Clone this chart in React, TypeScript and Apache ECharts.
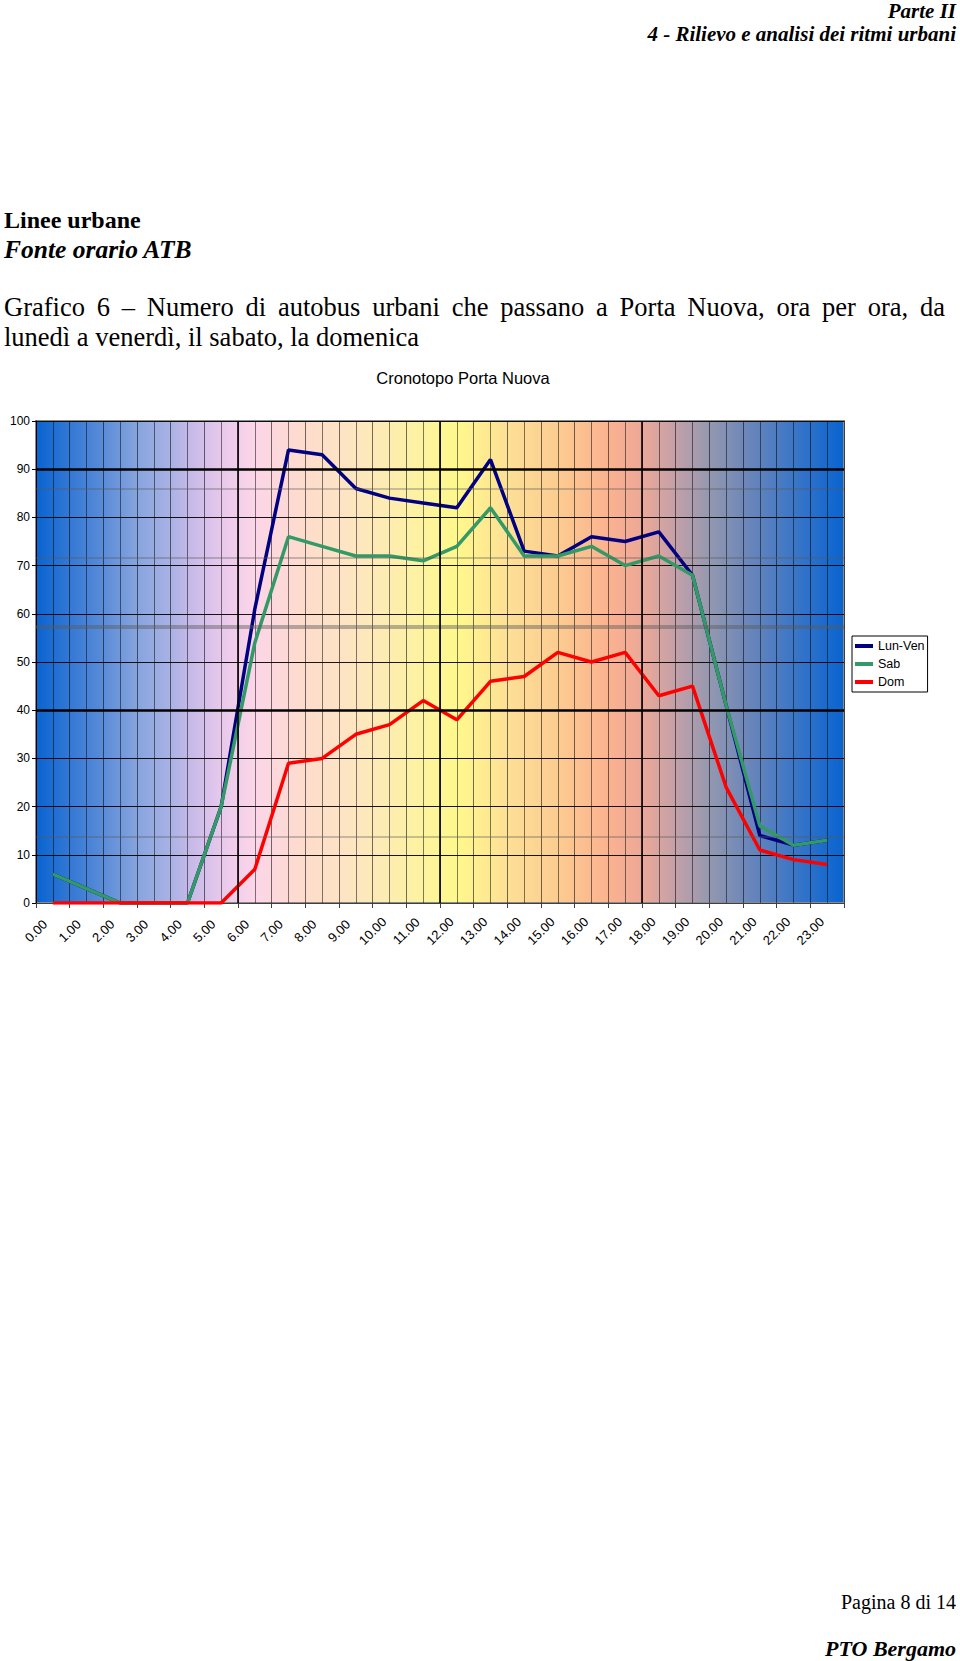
import React, { useEffect, useRef } from "react";
import * as echarts from "echarts";

// ---------- data ----------
const hours = [
  "0.00", "1.00", "2.00", "3.00", "4.00", "5.00", "6.00", "7.00", "8.00", "9.00", "10.00", "11.00",
  "12.00", "13.00", "14.00", "15.00", "16.00", "17.00", "18.00", "19.00", "20.00", "21.00", "22.00", "23.00",
];
const lunVen = [6, 3, 0, 0, 0, 20, 61, 94, 93, 86, 84, 83, 82, 92, 73, 72, 76, 75, 77, 68, 41, 14, 12, 13];
const sab = [6, 3, 0, 0, 0, 20, 54, 76, 74, 72, 72, 71, 74, 82, 72, 72, 74, 70, 72, 68, 41, 16, 12, 13];
const dom = [0, 0, 0, 0, 0, 0, 7, 29, 30, 35, 37, 42, 38, 46, 47, 52, 50, 52, 43, 45, 24, 11, 9, 8];
const seriesNames = ["Lun-Ven", "Sab", "Dom"];
const seriesColors = ["#000080", "#339966", "#ff0000"];

// background-picture decorations
const heavyHours = [6, 12, 18];
const heavyLevels = [90, 40];
const pictureLevels = [86, 71.6, 57.3, 13.8];

// ---------- texts ----------
const headerPart = "Parte II";
const headerChapter = "4 - Rilievo e analisi dei ritmi urbani";
const sectionTitle = "Linee urbane";
const sourceText = "Fonte orario ATB";
const captionLine1 = "Grafico 6 \u2013 Numero di autobus urbani che passano a Porta Nuova, ora per ora, da";
const captionLine2 = "luned\u00ec a venerd\u00ec, il sabato, la domenica";
const chartTitle = "Cronotopo Porta Nuova";
const footerPage = "Pagina 8 di 14";
const footerOrg = "PTO Bergamo";

const SERIF = '"Liberation Serif", "Times New Roman", serif';
const SANS = '"Liberation Sans", Arial, sans-serif';

const gradientStops: [number, string][] = [
  [0, "#0864d0"], [1, "#3378d4"], [2, "#5a8cd8"], [3, "#86a4de"], [4, "#aab2e4"], [4.5, "#c2b8e8"],
  [5.5, "#e8c8ec"], [6.5, "#fcd6e8"], [8, "#fddccc"], [9.5, "#fde6c0"], [11, "#fdf0a8"], [12.5, "#fff88c"],
  [14, "#fde096"], [15.5, "#fccc90"], [17, "#fbb290"], [18, "#eca898"], [19, "#c4a0a8"], [20, "#9498b0"],
  [21, "#7088b8"], [22, "#4c7cc2"], [23, "#2a70ca"], [24, "#0864d0"],
];

function txt(text: string, x: number, y: number, size: number, align: string, weight = "normal", style = "normal", family = SERIF) {
  return {
    type: "text",
    x,
    y,
    silent: true,
    style: {
      text,
      fontSize: size,
      fontFamily: family,
      fontWeight: weight,
      fontStyle: style,
      fill: "#000",
      align,
      textAlign: align,
      verticalAlign: "middle",
      textVerticalAlign: "middle",
    },
  };
}

function justified(text: string, size: number, x0: number, x1: number, y: number) {
  const ctx = document.createElement("canvas").getContext("2d")!;
  ctx.font = `${size}px "Liberation Serif"`;
  const words = text.split(" ");
  const widths = words.map((w) => ctx.measureText(w).width);
  const total = widths.reduce((a, b) => a + b, 0);
  const gap = (x1 - x0 - total) / (words.length - 1);
  let x = x0;
  return words.map((w, i) => {
    const el = txt(w, x, y, size, "left");
    x += widths[i] + gap;
    return el;
  });
}

export default function App() {
  const ref = useRef<HTMLDivElement>(null);

  useEffect(() => {
    const chart = echarts.init(ref.current!, null, { renderer: "svg" });

    const bg = new echarts.graphic.LinearGradient(
      0, 0, 1, 0,
      gradientStops.map(([h, c]) => ({ offset: h / 24, color: c }))
    );

    const option: any = {
      animation: false,
      backgroundColor: "#ffffff",
      grid: {
        left: 36,
        top: 421,
        width: 808,
        height: 482,
        show: true,
        backgroundColor: bg,
        borderColor: "#8a8a8a",
        borderWidth: 2,
        containLabel: false,
      },
      legend: {
        data: seriesNames,
        orient: "vertical",
        left: 852,
        top: 636,
        icon: "rect",
        itemWidth: 18,
        itemHeight: 4,
        itemGap: 4,
        padding: [3, 3, 3, 3],
        borderColor: "#000",
        borderWidth: 1,
        backgroundColor: "#fff",
        textStyle: { fontFamily: SANS, fontSize: 12.5, color: "#000", lineHeight: 14 },
      },
      xAxis: [
        {
          type: "category",
          data: hours,
          boundaryGap: true,
          show: false,
        },
        {
          type: "value",
          min: 0,
          max: 24,
          interval: 1,
          position: "bottom",
          axisLine: { show: true, lineStyle: { color: "#404040", width: 1 } },
          axisTick: { show: true, length: 5, lineStyle: { color: "#404040" } },
          axisLabel: {
            rotate: 45,
            align: "center",
            verticalAlign: "middle",
            margin: 28,
            fontFamily: SANS,
            fontSize: 13,
            color: "#000",
            formatter: (v: number) => (v < hours.length ? hours[v] : ""),
          },
          splitLine: { show: true, lineStyle: { color: "rgba(0,0,0,0.55)", width: 1 } },
          minorTick: { show: false, splitNumber: 2 },
          minorSplitLine: { show: true, lineStyle: { color: "rgba(0,0,0,0.5)", width: 1 } },
        },
      ],
      yAxis: {
        type: "value",
        min: 0,
        max: 100,
        interval: 10,
        axisLine: { show: true, lineStyle: { color: "#000", width: 1 } },
        axisTick: { show: true, length: 4, lineStyle: { color: "#000" } },
        axisLabel: { fontFamily: SANS, fontSize: 12, color: "#000", margin: 6 },
        splitLine: { show: true, lineStyle: { color: "rgba(0,0,0,0.9)", width: 1 } },
      },
      series: [
        {
          name: "_decor",
          type: "line",
          xAxisIndex: 1,
          data: [],
          silent: true,
          z: 1,
          markLine: {
            silent: true,
            symbol: "none",
            label: { show: false },
            animation: false,
            data: [
              ...pictureLevels.map((v, i) => ({
                yAxis: v,
                lineStyle: { color: "rgba(90,90,90,0.45)", width: i === 2 ? 4 : 1.5, type: "solid" },
              })),
              ...heavyLevels.map((v) => ({ yAxis: v, lineStyle: { color: "#000", width: 2.5, type: "solid" } })),
              ...heavyHours.map((h) => ({ xAxis: h, lineStyle: { color: "rgba(0,0,0,0.8)", width: 2, type: "solid" } })),
            ],
          },
        },
        ...seriesNames.map((name, i) => ({
          name,
          type: "line",
          xAxisIndex: 0,
          data: [lunVen, sab, dom][i],
          symbol: "none",
          z: 3,
          lineStyle: { color: seriesColors[i], width: 3.5 },
          itemStyle: { color: seriesColors[i] },
        })),
      ],
      graphic: [
        txt(headerPart, 956, 11, 21, "right", "bold", "italic"),
        txt(headerChapter, 956, 34, 21, "right", "bold", "italic"),
        txt(sectionTitle, 4, 220, 24, "left", "bold"),
        txt(sourceText, 4, 249, 25.5, "left", "bold", "italic"),
        ...justified(captionLine1, 26.5, 4, 945, 307),
        txt(captionLine2, 4, 337, 26.5, "left"),
        txt(chartTitle, 463, 378, 16.5, "center", "normal", "normal", SANS),
        txt(footerPage, 956, 1602, 20, "right"),
        txt(footerOrg, 956, 1648, 22, "right", "bold", "italic"),
      ],
    };

    chart.setOption(option);
    return () => chart.dispose();
  }, []);

  return (
    <div
      ref={ref}
      style={{ position: "absolute", left: 0, top: 0, width: 960, height: 1661, background: "#fff" }}
    />
  );
}
